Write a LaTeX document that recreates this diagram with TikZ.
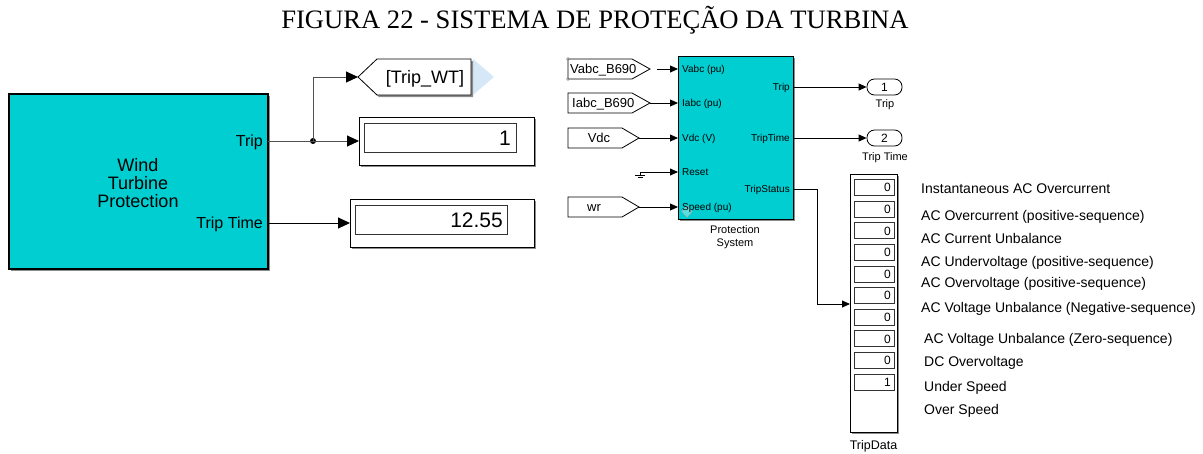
\documentclass[tikz,border=0pt]{standalone}
\usepackage{fontspec}
\setmainfont{Liberation Sans}
\newfontfamily\titlefont{Liberation Serif}
\usetikzlibrary{arrows.meta,shadows}
\definecolor{blockcyan}{RGB}{0,206,209}
\definecolor{gotoblue}{RGB}{214,232,248}
\definecolor{sigline}{RGB}{80,80,80}
\newcommand\pxs[1]{\fontsize{#1}{#1}\selectfont}

\begin{document}
\begin{tikzpicture}[x=1pt,y=-1pt,
  sig/.style={line width=1pt,-{Triangle[length=12pt,width=11pt,color=black]}},
  sigs/.style={line width=0.8pt,-{Triangle[length=8pt,width=7pt]}},
  shade/.style={drop shadow={shadow xshift=2pt,shadow yshift=-2pt,fill=black,opacity=0.45}},
  block/.style={draw=black,line width=1.2pt,fill=blockcyan,inner sep=0pt,outer sep=0pt,shade},
  disp/.style={draw=black,line width=1pt,fill=white,inner sep=0pt,outer sep=0pt,shade},
  cell/.style={draw=black!80,line width=0.7pt,fill=white,inner sep=0pt,outer sep=0pt},
  tag/.style={draw=black,line width=0.8pt,fill=white},
  portlbl/.style={font=\pxs{10},inner sep=0pt},
  statlbl/.style={font=\pxs{14},anchor=base west,inner sep=0pt},
  cellval/.style={font=\pxs{12},anchor=base east,inner sep=0pt},
  oval/.style={draw=black,line width=0.8pt,fill=white,rounded corners=7.5pt,minimum width=35pt,minimum height=16pt,inner sep=0pt,font=\pxs{12}}
]
\useasboundingbox (0,0) rectangle (1203,453);

% caption
\node[font=\titlefont\pxs{26.6},anchor=base,inner sep=0pt] (title) at (595,28) {FIGURA 22 - SISTEMA DE PROTEÇÃO DA TURBINA};

% ---------------- wind turbine protection subsystem ----------------
\node[block,minimum width=259pt,minimum height=175pt] (wt) at (138.5,181.5) {};
\node[font=\pxs{18},align=center,inner sep=0pt] (wtname) at (138,183) {Wind\\Turbine\\Protection};
\node[font=\pxs{16},anchor=base east,inner sep=0pt] (wttrip) at (263,146.5) {Trip};
\node[font=\pxs{16},anchor=base east,inner sep=0pt] (wttime) at (263,228.5) {Trip Time};
\coordinate (wt-trip) at (268,141);
\coordinate (wt-time) at (268,223);

% goto tag
\fill[gotoblue] (473,59) -- (494,77) -- (473,95) -- cycle;
\draw[tag,shade] (358,77) -- (377,59) -- (471,59) -- (471,95) -- (377,95) -- cycle;
\coordinate (gototip) at (358,77);
\node[font=\pxs{18},anchor=base,inner sep=0pt] (gototxt) at (425,83.5) {[Trip\_WT]};

% displays
\node[disp,minimum width=175pt,minimum height=48pt] (d1) at (446.5,141) {};
\node[cell,minimum width=152pt,minimum height=29pt] (d1in) at (440,137.5) {};
\node[font=\pxs{21},anchor=base east,inner sep=0pt] (d1val) at (511,145) {1};
\node[disp,minimum width=184pt,minimum height=48pt] (d2) at (442,223) {};
\node[cell,minimum width=152pt,minimum height=29pt] (d2in) at (431,219.5) {};
\node[font=\pxs{21},anchor=base east,inner sep=0pt] (d2val) at (503,227) {12.55};

% signals
\node[circle,fill=black,inner sep=0pt,minimum size=6pt] (jn) at (313,141) {};
\draw[sig,draw=sigline] (wt-trip) -- (d1.west);
\draw[sig,draw=sigline] (jn.center) |- (gototip);
\draw[sig] (wt-time) -- (d2.west);

% ---------------- protection system block ----------------
\node[block,line width=1pt,minimum width=115pt,minimum height=163pt] (ps) at (735.5,137.5) {};
\fill[white,opacity=0.35] (687,206) -- (692,211.5) -- (687,217) -- (682,211.5) -- cycle;
\draw[black!30,line width=0.5pt] (687,206) -- (692,211.5) -- (687,217) -- (682,211.5) -- cycle;

\coordinate (ps-vabc) at (678,69);
\coordinate (ps-iabc) at (678,103);
\coordinate (ps-vdc) at (678,138);
\coordinate (ps-reset) at (678,172);
\coordinate (ps-speed) at (678,207);
\coordinate (ps-trip) at (793,87);
\coordinate (ps-time) at (793,138);
\coordinate (ps-status) at (793,189);

\node[portlbl,anchor=base west] (l1) at (682,72.6) {Vabc (pu)};
\node[portlbl,anchor=base west] (l2) at (682,106.6) {Iabc (pu)};
\node[portlbl,anchor=base west] (l3) at (682,141.6) {Vdc (V)};
\node[portlbl,anchor=base west] (l4) at (682,175.6) {Reset};
\node[portlbl,anchor=base west] (l5) at (682,210.6) {Speed (pu)};
\node[portlbl,anchor=base east] (r1) at (790,90.6) {Trip};
\node[portlbl,anchor=base east] (r2) at (790,141.6) {TripTime};
\node[portlbl,anchor=base east] (r3) at (790,192.6) {TripStatus};

\node[font=\pxs{11},anchor=base,inner sep=0pt] (pscap1) at (735,233) {Protection};
\node[font=\pxs{11},anchor=base,inner sep=0pt] (pscap2) at (735,246) {System};

% from tags
\draw[tag] (568,59) -- (632,59) -- (650,69) -- (632,79) -- (568,79) -- cycle;
\node[font=\pxs{13},anchor=base west,inner sep=0pt] (tvabc) at (570,73.7) {Vabc\_B690};
\foreach \p in {(568,59),(568,79)} \draw[black!45,line width=0.5pt] \p circle (1.5pt);
\draw[tag] (568,93) -- (632,93) -- (650,103) -- (632,113) -- (568,113) -- cycle;
\coordinate (tiabc) at (650,103);
\node[font=\pxs{13},anchor=base west,inner sep=0pt] (tiabctxt) at (572,107.7) {Iabc\_B690};
\draw[tag] (568,128) -- (622,128) -- (639,138) -- (622,148) -- (568,148) -- cycle;
\coordinate (tvdc) at (639,138);
\node[font=\pxs{13},anchor=base,inner sep=0pt] (tvdctxt) at (599,142.7) {Vdc};
\draw[tag] (568,197) -- (622,197) -- (639,207) -- (622,217) -- (568,217) -- cycle;
\coordinate (twr) at (639,207);
\node[font=\pxs{13},anchor=base,inner sep=0pt] (twrtxt) at (594,211.7) {wr};

% ground
\coordinate (gnd) at (640,172);
\draw[line width=0.6pt] (640,172) -- (640,175.5) (635,175.5) -- (645,175.5) (637.5,177.5) -- (642.5,177.5);

% input signals
\coordinate (vabcstart) at (657,69);
\draw[sigs] (vabcstart) -- (ps-vabc);
\draw[sigs] (tiabc) -- (ps-iabc);
\draw[sigs] (tvdc) -- (ps-vdc);
\draw[sigs] (gnd) -- (ps-reset);
\draw[sigs] (twr) -- (ps-speed);

% outports
\node[oval] (out1) at (884.5,87) {1};
\node[font=\pxs{11},anchor=base,inner sep=0pt] (out1lbl) at (885,107) {Trip};
\node[oval] (out2) at (884.5,138) {2};
\node[font=\pxs{11},anchor=base,inner sep=0pt] (out2lbl) at (885,160) {Trip Time};
\draw[sigs] (ps-trip) -- (out1.west);
\draw[sigs] (ps-time) -- (out2.west);

% trip status display
\node[disp,minimum width=47pt,minimum height=258pt] (td) at (873.5,303) {};
\foreach \i/\v in {0/0,1/0,2/0,3/0,4/0,5/0,6/0,7/0,8/0,9/1} {
  \node[cell,minimum width=40pt,minimum height=16pt] (c\i) at (874,187.5+21.6*\i) {};
  \node[cellval] (v\i) at (891,191.8+21.6*\i) {\v};
}
\node[font=\pxs{12.5},anchor=base,inner sep=0pt] (tdlbl) at (873.5,449) {TripData};
\coordinate (tdin) at (850,304);
\draw[sigs] (ps-status) -- ++(24,0) |- (tdin);

% status descriptions
\node[statlbl] (s0) at (921,193) {Instantaneous AC Overcurrent};
\node[statlbl] (s1) at (921,220) {AC Overcurrent (positive-sequence)};
\node[statlbl] (s2) at (921,243) {AC Current Unbalance};
\node[statlbl] (s3) at (921,266) {AC Undervoltage (positive-sequence)};
\node[statlbl] (s4) at (921,287) {AC Overvoltage (positive-sequence)};
\node[statlbl] (s5) at (921,312) {AC Voltage Unbalance (Negative-sequence)};
\node[statlbl] (s6) at (924,343) {AC Voltage Unbalance (Zero-sequence)};
\node[statlbl] (s7) at (924,366) {DC Overvoltage};
\node[statlbl] (s8) at (924,391) {Under Speed};
\node[statlbl] (s9) at (924,414) {Over Speed};
\end{tikzpicture}
\end{document}
